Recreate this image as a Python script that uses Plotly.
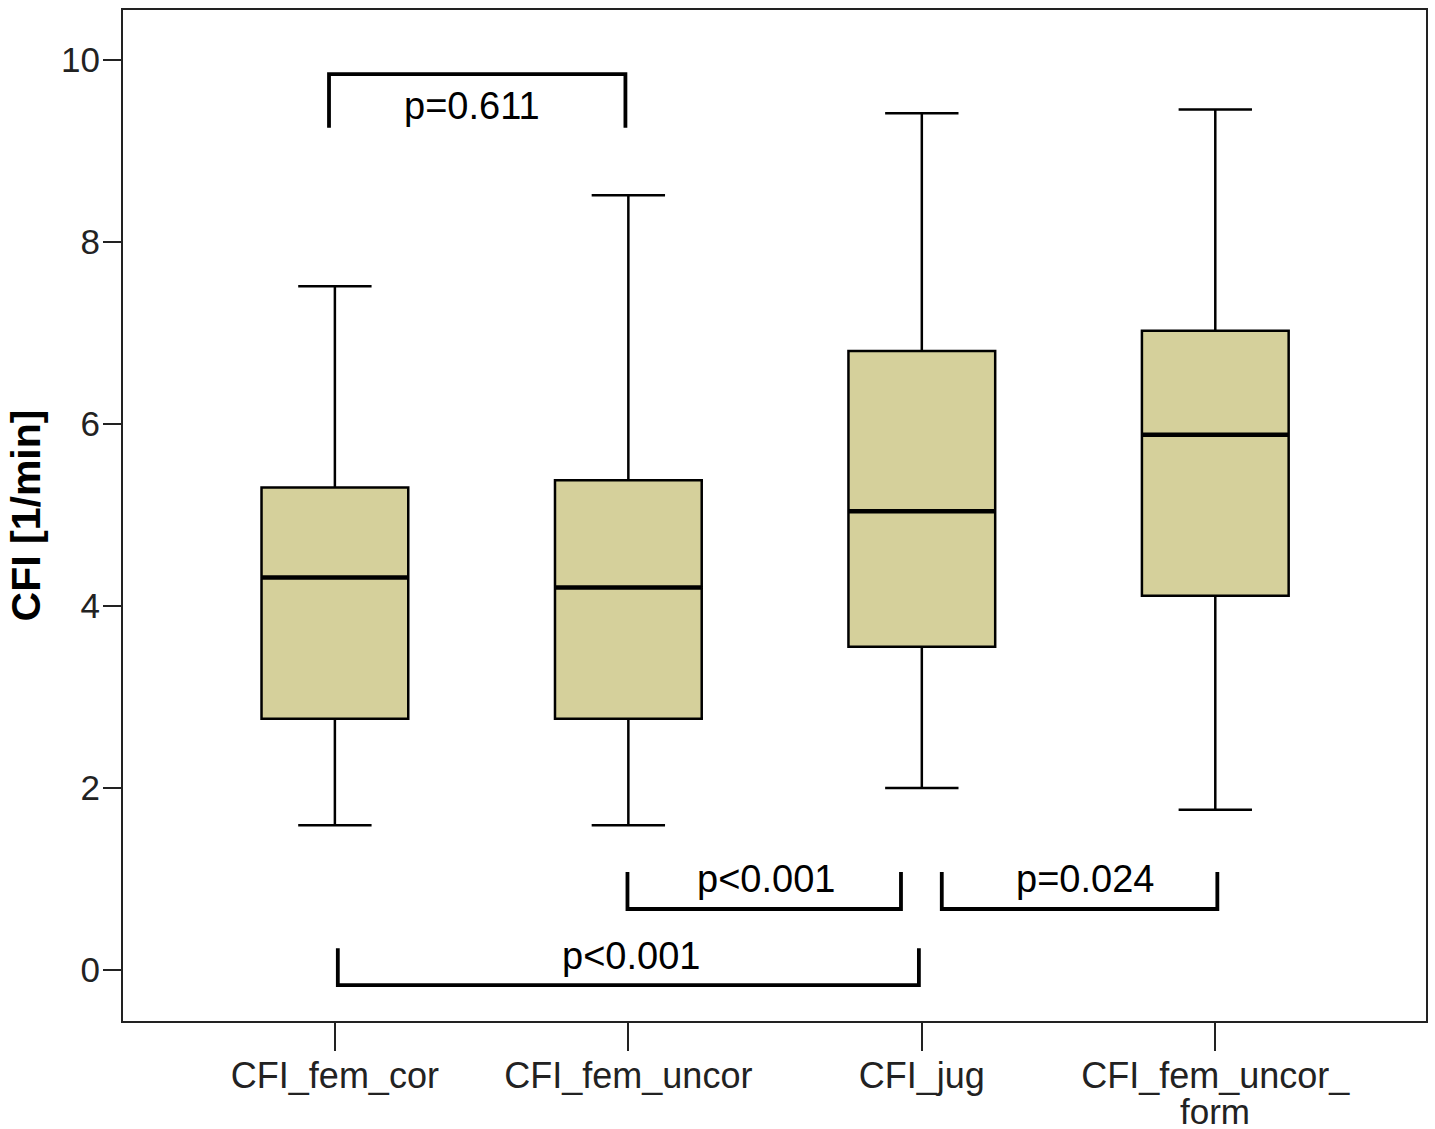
import plotly.graph_objects as go

# ---------------- data ----------------
categories = ["CFI_fem_cor", "CFI_fem_uncor", "CFI_jug", "CFI_fem_uncor_"]
extra_label = "form"
lower_whisker = [1.59, 1.59, 2.00, 1.76]
q1 = [2.76, 2.76, 3.55, 4.11]
median = [4.31, 4.20, 5.04, 5.88]
q3 = [5.30, 5.38, 6.80, 7.02]
upper_whisker = [7.51, 8.51, 9.41, 9.45]

y_ticks = [0, 2, 4, 6, 8, 10]

# significance brackets: left, right, bar level, leg end level, label, label x, label y
br_x0 = [-0.02, 0.997, 2.068, 0.01]
br_x1 = [0.99, 1.929, 3.007, 1.99]
br_bar = [9.84, 0.67, 0.67, -0.165]
br_leg = [9.25, 1.076, 1.076, 0.24]
br_text = ["p=0.611", "p<0.001", "p=0.024", "p<0.001"]
br_tx = [0.466, 1.47, 2.555, 1.01]
br_ty = [9.49, 1.0, 1.0, 0.15]

FILL = "#d5d09b"
BOX_W = 0.5

fig = go.Figure()
fig.add_trace(go.Box(
    x=categories,
    q1=q1, median=median, q3=q3,
    lowerfence=lower_whisker, upperfence=upper_whisker,
    fillcolor=FILL,
    line=dict(color="#000000", width=2.5),
    width=BOX_W,
    whiskerwidth=0.5,
    boxpoints=False,
    showlegend=False,
    hoverinfo="skip",
))

shapes = []
# thicker median lines
for i, m in enumerate(median):
    shapes.append(dict(type="line", xref="x", yref="y",
                       x0=i - BOX_W / 2, x1=i + BOX_W / 2, y0=m, y1=m,
                       line=dict(color="#000000", width=4.5)))
# brackets
for x0, x1, yb, yl in zip(br_x0, br_x1, br_bar, br_leg):
    shapes.append(dict(type="path", xref="x", yref="y",
                       path=f"M {x0},{yl} L {x0},{yb} L {x1},{yb} L {x1},{yl}",
                       line=dict(color="#000000", width=3.8)))

annotations = []
for t, tx, ty in zip(br_text, br_tx, br_ty):
    annotations.append(dict(x=tx, y=ty, xref="x", yref="y", text=t,
                            showarrow=False, xanchor="center", yanchor="middle",
                            font=dict(family="Liberation Sans, Arial", size=38, color="#000000")))
annotations.append(dict(x=3, y=0, xref="x", yref="paper", text=extra_label,
                        showarrow=False, xanchor="center", yanchor="bottom", yshift=-112,
                        font=dict(family="Liberation Sans, Arial", size=35, color="#222222")))

fig.update_layout(
    width=1435, height=1129,
    margin=dict(l=123, r=7, t=10, b=108),
    paper_bgcolor="white", plot_bgcolor="white",
    shapes=shapes, annotations=annotations,
    font=dict(family="Liberation Sans, Arial", color="#222222"),
)
fig.update_xaxes(
    range=[-0.722, 3.718],
    showline=True, linecolor="#222222", linewidth=2, mirror=True,
    ticks="outside", ticklen=28, tickwidth=2, tickcolor="#222222",
    tickfont=dict(size=36, color="#222222"),
    ticklabelstandoff=-6,
    showgrid=False, zeroline=False,
)
fig.update_yaxes(
    range=[-0.56, 10.544],
    tickvals=y_ticks,
    showline=True, linecolor="#222222", linewidth=2, mirror=True,
    ticks="outside", ticklen=18, tickwidth=2, tickcolor="#222222",
    tickfont=dict(size=35, color="#222222"),
    ticklabelstandoff=-4,
    showgrid=False, zeroline=False,
    title=dict(text="<b>CFI [1/min]</b>", font=dict(size=41, color="#000000"), standoff=8),
)

fig.write_html("out.html")
